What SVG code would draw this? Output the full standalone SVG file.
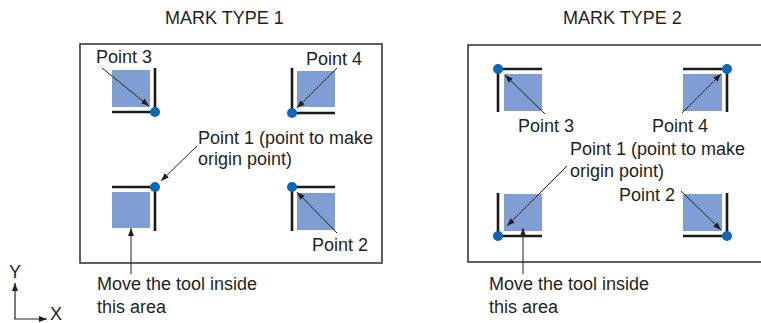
<svg xmlns="http://www.w3.org/2000/svg" width="761" height="323" viewBox="0 0 761 323">
<defs>
<marker id="ah" markerUnits="userSpaceOnUse" markerWidth="9" markerHeight="6" refX="8" refY="3" orient="auto">
<path d="M0,0 L8,3 L0,6 z" fill="#231f20"/>
</marker>
<style>
text{font-family:"Liberation Sans",Arial,sans-serif;font-size:18px;fill:#231f20}
.frame{fill:none;stroke:#3a3a3a;stroke-width:1.6}
.sq{fill:#7f9fd4}
.mk{fill:none;stroke:#1a1a1a;stroke-width:2.6}
.dot{fill:#0b68b6}
.ar{fill:none;stroke:#231f20;stroke-width:1;marker-end:url(#ah)}
.ax{fill:none;stroke:#231f20;stroke-width:1.2;marker-end:url(#ah)}
</style>
</defs>
<rect width="761" height="323" fill="#fff"/>

<g id="panel1">
<text x="165" y="24">MARK TYPE 1</text>
<rect class="frame" x="80" y="44" width="302" height="219"/>
</g>
<g id="panel2">
<text x="563" y="24">MARK TYPE 2</text>
<rect class="frame" x="468" y="45" width="300" height="217"/>
</g>

<g id="l-p3">
<rect class="sq" x="112" y="70" width="38" height="37"/>
<path class="mk" d="M112,112 H155 V68"/>
<circle class="dot" cx="155" cy="112" r="5"/>
<text x="96" y="63">Point 3</text>
</g>
<g id="l-p4">
<rect class="sq" x="297" y="71" width="38" height="36"/>
<path class="mk" d="M335,113 H292 V68"/>
<circle class="dot" cx="292" cy="113" r="5"/>
<text x="306" y="65">Point 4</text>
</g>
<g id="l-p1">
<rect class="sq" x="112" y="192" width="38" height="36"/>
<path class="mk" d="M112,187 H155 V231"/>
<circle class="dot" cx="155" cy="187" r="5"/>
<text x="198" y="144">Point 1 (point to make</text>
<text x="198" y="165">origin point)</text>
</g>
<g id="l-p2">
<rect class="sq" x="297" y="193" width="38" height="37"/>
<path class="mk" d="M335,187 H292 V231"/>
<circle class="dot" cx="292" cy="187" r="5"/>
<text x="312" y="251">Point 2</text>
</g>
<g id="l-move">
<text x="97" y="290">Move the tool inside</text>
<text x="97" y="313">this area</text>
</g>

<g id="r-p3">
<rect class="sq" x="504" y="74" width="38" height="37"/>
<path class="mk" d="M542,69 H498 V112"/>
<circle class="dot" cx="498" cy="69" r="5"/>
<text x="518" y="132">Point 3</text>
</g>
<g id="r-p4">
<rect class="sq" x="683" y="74" width="39" height="37"/>
<path class="mk" d="M683,69 H727 V112"/>
<circle class="dot" cx="727" cy="69" r="5"/>
<text x="652" y="132">Point 4</text>
</g>
<g id="r-p1">
<rect class="sq" x="504" y="194" width="38" height="37"/>
<path class="mk" d="M498,193 V236 H542"/>
<circle class="dot" cx="498" cy="236" r="5"/>
<text x="570" y="155">Point 1 (point to make</text>
<text x="570" y="177">origin point)</text>
</g>
<g id="r-p2">
<rect class="sq" x="683" y="194" width="39" height="37"/>
<path class="mk" d="M727,193 V236 H683"/>
<circle class="dot" cx="727" cy="236" r="5"/>
<text x="619" y="201">Point 2</text>
</g>
<g id="r-move">
<text x="489" y="290">Move the tool inside</text>
<text x="489" y="313">this area</text>
</g>

<g id="axes">
<text x="9" y="278">Y</text>
<text x="50" y="320">X</text>
</g>

<g id="connectors">
<line class="ar" x1="102" y1="68" x2="149" y2="106"/>
<line class="ar" x1="337" y1="68" x2="297" y2="108"/>
<line class="ar" x1="197" y1="146" x2="161" y2="181"/>
<line class="ar" x1="337" y1="233" x2="297" y2="192"/>
<line class="ar" x1="131" y1="274" x2="131" y2="228"/>
<line class="ar" x1="545" y1="114" x2="505" y2="75"/>
<line class="ar" x1="682" y1="113" x2="721" y2="74"/>
<line class="ar" x1="567" y1="166" x2="507" y2="226"/>
<line class="ar" x1="681" y1="191" x2="721" y2="230"/>
<line class="ar" x1="523" y1="274" x2="523" y2="228"/>
<line class="ax" x1="15" y1="319" x2="15" y2="283"/>
<line class="ax" x1="14.4" y1="319" x2="47" y2="319"/>
</g>
</svg>
